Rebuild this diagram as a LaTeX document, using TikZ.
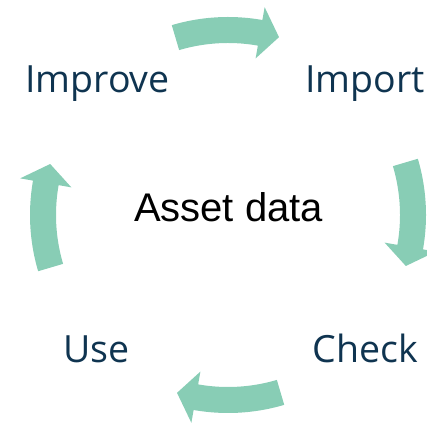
\documentclass[tikz,border=0pt]{standalone}
\usepackage{fontspec}
\setmainfont{Open Sans}
\newfontfamily\arialfont{Liberation Sans}
\definecolor{arrgreen}{HTML}{88CDB5}
\definecolor{labnavy}{HTML}{0F3450}
% curved block arrow around the centre, #1 = middle angle (clockwise travel)
\newcommand\cyclearrow[1]{%
  \fill[arrfill]
    plot[domain=#1+16.5:#1-10, samples=30] (\x:172pt)
    -- (#1-10:159pt) -- (#1-16:185pt) -- (#1-10:211pt) -- (#1-10:198pt)
    -- plot[domain=#1-10:#1+16.5, samples=30] (\x:198pt) -- cycle;}
\begin{document}
\begin{tikzpicture}[x=1pt,y=1pt,
  arrfill/.style={fill=arrgreen},
  lab/.style={text=labnavy,font=\fontsize{37.5}{40}\selectfont,inner sep=0pt,anchor=base},
  core/.style={text=black,font=\arialfont\fontsize{40}{44}\selectfont,inner sep=0pt,anchor=base}]
\useasboundingbox (0,0) rectangle (427,425);
\clip (0,0) rectangle (427,425);
\begin{scope}[shift={(228,210)}]
  \cyclearrow{90}
  \cyclearrow{0}
  \cyclearrow{-90}
  \cyclearrow{180}
\end{scope}
\node[lab] (improve) at (97.5,332) {Improve};
\node[lab] (import) at (365,332) {Import};
\node[lab] (use) at (96.5,63) {Use};
\node[lab] (check) at (365.5,63) {Check};
\node[core] (asset) at (228.5,203) {Asset data};
\end{tikzpicture}
\end{document}
